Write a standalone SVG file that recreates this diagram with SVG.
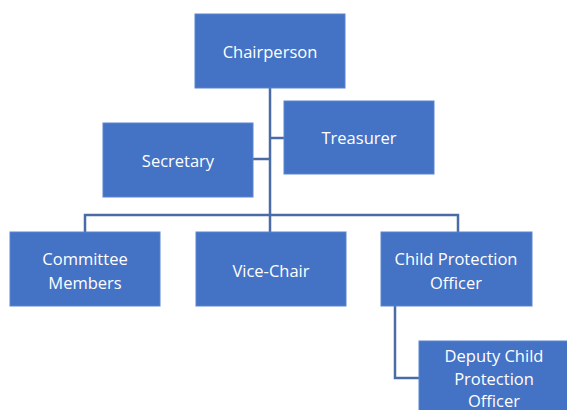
<svg xmlns="http://www.w3.org/2000/svg" width="567" height="410" viewBox="0 0 567 410">
<style>
.box{fill:#4472C4;stroke:#5B85CF;stroke-width:1}
.lbl{fill:#ffffff;font-family:"Open Sans","Liberation Sans",sans-serif;font-size:16.5px;text-anchor:middle;dominant-baseline:central}
.con{fill:none;stroke:#4A6BA6;stroke-width:2.5}
</style>
<rect width="567" height="410" fill="#ffffff"/>
<g id="connectors">
<path class="con" d="M270 88 V216"/>
<path class="con" d="M270 138 H284"/>
<path class="con" d="M253 159 H270"/>
<path class="con" d="M85 232 V215 H458 V232"/>
<path class="con" d="M270 215 V232"/>
<path class="con" d="M395 306 V378 H419"/>
</g>
<g id="chairperson"><rect class="box" x="195" y="14" width="150" height="74"/><text class="lbl" x="270" y="51">Chairperson</text></g>
<g id="treasurer"><rect class="box" x="284" y="101" width="150" height="73"/><text class="lbl" x="359" y="137">Treasurer</text></g>
<g id="secretary"><rect class="box" x="103" y="123" width="150" height="74"/><text class="lbl" x="178" y="160">Secretary</text></g>
<g id="committee"><rect class="box" x="10" y="232" width="150" height="74"/><text class="lbl" x="85" y="258">Committee</text><text class="lbl" x="85" y="282">Members</text></g>
<g id="vicechair"><rect class="box" x="196" y="232" width="150" height="74"/><text class="lbl" x="271" y="270">Vice-Chair</text></g>
<g id="cpo"><rect class="box" x="381" y="232" width="151" height="74"/><text class="lbl" x="456" y="258">Child Protection</text><text class="lbl" x="456" y="282">Officer</text></g>
<g id="deputy"><rect class="box" x="419" y="341" width="150" height="74"/><text class="lbl" x="494" y="355">Deputy Child</text><text class="lbl" x="494" y="378">Protection</text><text class="lbl" x="494" y="400">Officer</text></g>
</svg>
